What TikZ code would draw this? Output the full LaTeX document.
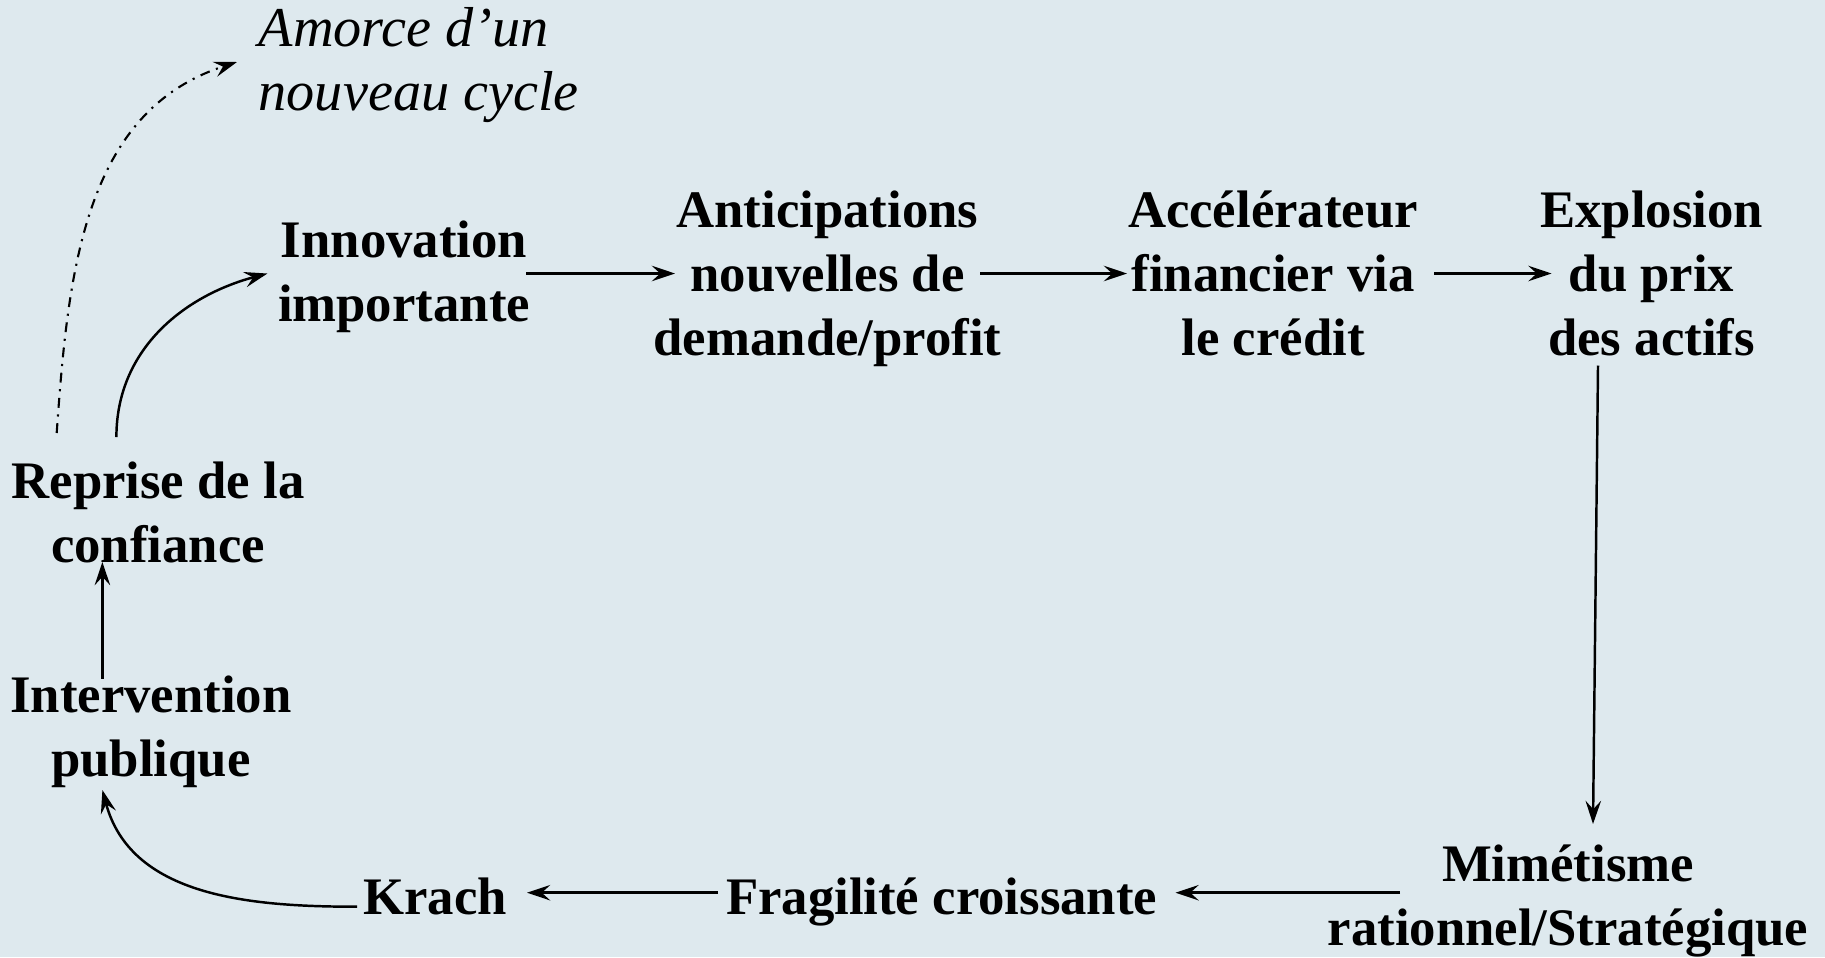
\documentclass[tikz,border=0pt]{standalone}
\usepackage{fontspec}
\setmainfont{Liberation Serif}
\usetikzlibrary{arrows.meta,calc}
\definecolor{bgblue}{RGB}{222,233,238}
\begin{document}
\begin{tikzpicture}[x=0.01cm,y=-0.01cm,
  lbl/.style={inner sep=0pt, align=center, anchor=base,
    font=\fontsize{15pt}{18.2pt}\selectfont\bfseries},
  tip/.style={-{Stealth[length=6.6pt,width=4.4pt,inset=2.4pt]}},
  arr/.style={tip, line width=0.7pt},
  dashdotarr/.style={tip, line width=0.6pt,
    dash pattern=on 2.8pt off 1.9pt on 0.6pt off 1.9pt}]
% background
\fill[bgblue] (0,0) rectangle (1825,957);
\useasboundingbox (0,0) rectangle (1825,957);

% nodes of the cycle (placed at the baseline of their last line)
\node[lbl] (innov)  at (404,321)   {Innovation\\importante};
\node[lbl] (antic)  at (827.5,355) {Anticipations\\nouvelles de\\demande/profit};
\node[lbl] (accel)  at (1273,355)  {Accélérateur\\financier via\\le crédit};
\node[lbl] (expl)   at (1651.5,355){Explosion\\du prix\\des actifs};
\node[lbl] (mimet)  at (1568,945)  {Mimétisme\\rationnel/Stratégique};
\node[lbl] (fragil) at (941.6,914) {Fragilité croissante};
\node[lbl] (krach)  at (435,914)   {Krach};
\node[lbl] (interv) at (151,776)   {Intervention\\publique};
\node[lbl] (repris) at (158,562)   {Reprise de la\\confiance};
\node[inner sep=0pt, align=left, anchor=base west,
  font=\fontsize{16pt}{18.2pt}\selectfont\itshape] (amorce) at (258,110.5)
  {Amorce d’un\\nouveau cycle};

% top row
\draw[arr] ($(innov.base)+(122,-47.5)$) -- ($(antic.base)+(-152.5,-81.5)$);
\draw[arr] ($(antic.base)+(152.5,-81.5)$) -- ($(accel.base)+(-146,-81.5)$);
\draw[arr] ($(accel.base)+(161,-81.5)$) -- ($(expl.base)+(-100,-81.5)$);
% right side, going down
\draw[arr] ($(expl.base)+(-53.5,10.5)$) -- ($(mimet.base)+(25,-121)$);
% bottom row
\draw[arr] ($(mimet.base)+(-168,-52.3)$) -- ($(fragil.base)+(233.9,-21.3)$);
\draw[arr] ($(fragil.base)+(-223.6,-21.3)$) -- ($(krach.base)+(92,-21.3)$);
% left side, going up
\draw[arr] ($(krach.base)+(-78,-7.3)$) to[out=180,in=-75] ($(interv.base)+(-48.6,14)$);
\draw[arr] ($(interv.base)+(-48.6,-97.5)$) -- ($(repris.base)+(-55.6,0)$);
\draw[arr] ($(repris.base)+(-41.6,-125)$) to[out=90,in=195] ($(innov.base)+(-136.6,-47.5)$);
% start of a new cycle
\draw[dashdotarr] ($(repris.base)+(-101.3,-129)$) to[out=86,in=198] ($(amorce.base west)+(-21,-48.5)$);
\end{tikzpicture}
\end{document}
